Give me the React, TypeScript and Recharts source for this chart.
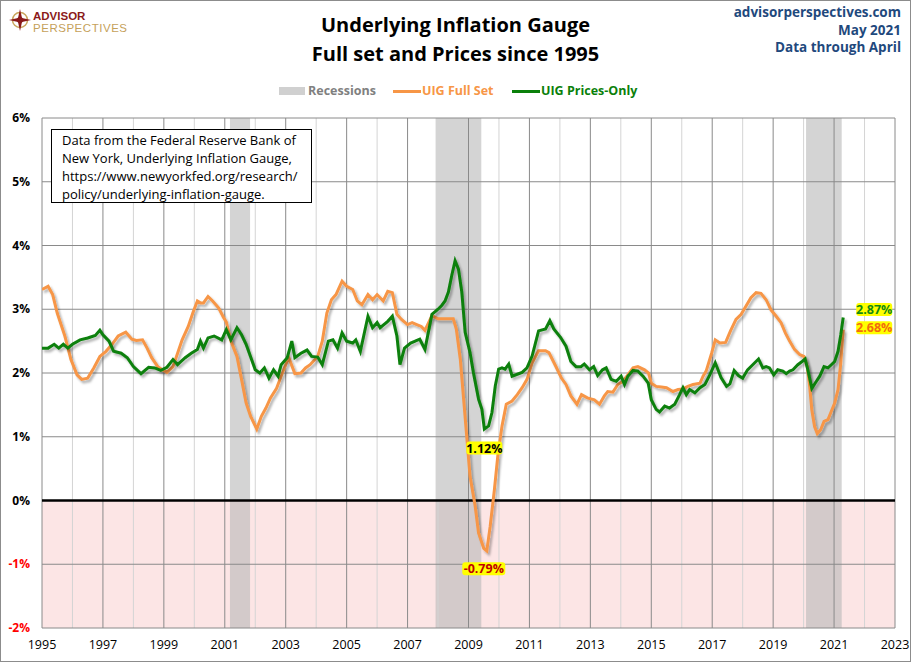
import React from "react";
import {
  LineChart,
  Line,
  XAxis,
  YAxis,
  ReferenceArea,
  ReferenceLine,
  ReferenceDot,
} from "recharts";

// x positions are fractional years, values are % (yoy)
const years = [
  1995, 1996, 1997, 1998, 1999, 2000, 2001, 2002, 2003, 2004, 2005, 2006, 2007,
  2008, 2009, 2010, 2011, 2012, 2013, 2014, 2015, 2016, 2017, 2018, 2019, 2020,
  2021, 2022, 2023,
];
const percentTicks = [-2, -1, 0, 1, 2, 3, 4, 5, 6];

const recessions: [number, number][] = [
  [2001.17, 2001.83],
  [2007.92, 2009.42],
  [2020.08, 2021.25],
];

const fullSet: [number, number][] = [
  [1995.0, 3.31], [1995.2, 3.36], [1995.35, 3.23], [1995.5, 2.94], [1995.75, 2.58],
  [1995.95, 2.21], [1996.15, 1.97], [1996.3, 1.9], [1996.5, 1.92], [1996.7, 2.08],
  [1996.9, 2.26], [1997.1, 2.34], [1997.3, 2.45], [1997.5, 2.58], [1997.75, 2.64],
  [1997.95, 2.53], [1998.1, 2.51], [1998.3, 2.52], [1998.45, 2.39], [1998.6, 2.24],
  [1998.8, 2.1], [1998.95, 2.05], [1999.1, 2.01], [1999.3, 2.1], [1999.45, 2.31],
  [1999.6, 2.52], [1999.8, 2.73], [1999.95, 2.94], [2000.1, 3.13], [2000.2, 3.1],
  [2000.3, 3.1], [2000.45, 3.2], [2000.6, 3.13], [2000.8, 3.02], [2000.95, 2.88],
  [2001.05, 2.8], [2001.2, 2.5], [2001.4, 2.26], [2001.55, 1.9], [2001.7, 1.53],
  [2001.85, 1.32], [2002.05, 1.12], [2002.2, 1.32], [2002.35, 1.45], [2002.5, 1.61],
  [2002.7, 1.76], [2002.85, 1.95], [2003.0, 2.13], [2003.1, 2.24], [2003.3, 1.99],
  [2003.5, 2.0], [2003.65, 2.08], [2003.8, 2.13], [2004.05, 2.26], [2004.2, 2.5],
  [2004.35, 2.94], [2004.5, 3.15], [2004.65, 3.23], [2004.85, 3.44], [2005.0, 3.36],
  [2005.2, 3.31], [2005.35, 3.13], [2005.5, 3.07], [2005.7, 3.23], [2005.85, 3.15],
  [2006.0, 3.23], [2006.2, 3.13], [2006.35, 3.28], [2006.5, 3.26], [2006.65, 2.92],
  [2006.8, 2.84], [2007.0, 2.76], [2007.15, 2.79], [2007.3, 2.76], [2007.45, 2.73],
  [2007.57, 2.67], [2007.8, 2.9], [2008.0, 2.85], [2008.23, 2.85], [2008.5, 2.85],
  [2008.6, 2.69], [2008.73, 2.22], [2008.84, 1.59], [2008.95, 0.96], [2009.05, 0.38],
  [2009.22, -0.09], [2009.33, -0.51], [2009.5, -0.75], [2009.6, -0.79], [2009.71, -0.41],
  [2009.85, 0.17], [2009.96, 0.69], [2010.1, 1.17], [2010.24, 1.51], [2010.43, 1.56],
  [2010.6, 1.66], [2010.76, 1.77], [2010.92, 1.9], [2011.09, 2.16], [2011.3, 2.35],
  [2011.53, 2.35], [2011.64, 2.32], [2011.86, 2.11], [2012.05, 1.92], [2012.2, 1.82],
  [2012.36, 1.64], [2012.56, 1.51], [2012.71, 1.66], [2012.9, 1.61], [2013.13, 1.58],
  [2013.3, 1.51], [2013.46, 1.64], [2013.57, 1.71], [2013.74, 1.7], [2013.9, 1.82],
  [2014.07, 1.87], [2014.23, 1.97], [2014.4, 2.08], [2014.56, 2.1], [2014.78, 2.05],
  [2014.91, 2.0], [2015.0, 1.84], [2015.16, 1.79], [2015.33, 1.78], [2015.5, 1.77],
  [2015.71, 1.71], [2015.88, 1.74], [2016.04, 1.75], [2016.2, 1.79], [2016.37, 1.82],
  [2016.6, 1.84], [2016.7, 1.95], [2016.8, 2.03], [2016.98, 2.31], [2017.1, 2.52],
  [2017.25, 2.47], [2017.44, 2.48], [2017.6, 2.66], [2017.78, 2.84], [2017.95, 2.92],
  [2018.11, 3.05], [2018.27, 3.18], [2018.44, 3.26], [2018.6, 3.25], [2018.77, 3.15],
  [2018.93, 2.99], [2019.1, 2.89], [2019.26, 2.79], [2019.4, 2.63], [2019.54, 2.5],
  [2019.7, 2.37], [2019.87, 2.29], [2020.01, 2.26], [2020.12, 2.1], [2020.2, 1.79],
  [2020.27, 1.42], [2020.36, 1.16], [2020.45, 1.05], [2020.56, 1.11], [2020.67, 1.24],
  [2020.8, 1.27], [2020.91, 1.4], [2021.02, 1.53], [2021.13, 1.74], [2021.22, 2.16],
  [2021.3, 2.68],
];

const pricesOnly: [number, number][] = [
  [1995.0, 2.39], [1995.2, 2.39], [1995.4, 2.45], [1995.55, 2.39], [1995.7, 2.45],
  [1995.85, 2.39], [1996.0, 2.45], [1996.25, 2.52], [1996.5, 2.55], [1996.75, 2.59],
  [1996.9, 2.67], [1997.0, 2.6], [1997.2, 2.5], [1997.35, 2.34], [1997.6, 2.31],
  [1997.8, 2.24], [1998.0, 2.1], [1998.25, 1.99], [1998.5, 2.09], [1998.7, 2.08],
  [1998.9, 2.04], [1999.1, 2.09], [1999.3, 2.21], [1999.45, 2.13], [1999.7, 2.24],
  [1999.9, 2.31], [2000.1, 2.37], [2000.2, 2.5], [2000.3, 2.39], [2000.45, 2.55],
  [2000.65, 2.58], [2000.9, 2.52], [2001.05, 2.68], [2001.2, 2.52], [2001.4, 2.71],
  [2001.55, 2.6], [2001.7, 2.45], [2001.85, 2.25], [2002.0, 2.05], [2002.15, 2.0],
  [2002.3, 2.08], [2002.45, 1.92], [2002.6, 2.05], [2002.75, 1.95], [2002.85, 2.13],
  [2003.05, 2.24], [2003.2, 2.5], [2003.3, 2.24], [2003.5, 2.31], [2003.7, 2.36],
  [2003.85, 2.26], [2004.05, 2.25], [2004.2, 2.13], [2004.4, 2.5], [2004.55, 2.52],
  [2004.7, 2.39], [2004.85, 2.63], [2005.0, 2.5], [2005.2, 2.47], [2005.3, 2.52],
  [2005.45, 2.34], [2005.7, 2.89], [2005.85, 2.71], [2006.0, 2.79], [2006.1, 2.71],
  [2006.35, 2.81], [2006.5, 2.89], [2006.65, 2.58], [2006.75, 2.13], [2006.9, 2.39],
  [2007.1, 2.47], [2007.25, 2.5], [2007.4, 2.53], [2007.57, 2.37], [2007.8, 2.92],
  [2008.0, 3.0], [2008.12, 3.06], [2008.23, 3.13], [2008.34, 3.27], [2008.45, 3.53],
  [2008.56, 3.76], [2008.67, 3.63], [2008.78, 3.27], [2008.89, 2.64], [2009.05, 2.32],
  [2009.16, 2.01], [2009.33, 1.59], [2009.44, 1.43], [2009.52, 1.12], [2009.66, 1.17],
  [2009.77, 1.38], [2009.88, 1.8], [2009.99, 2.06], [2010.1, 2.08], [2010.2, 2.06],
  [2010.32, 2.14], [2010.43, 1.95], [2010.6, 1.98], [2010.76, 2.01], [2010.92, 2.08],
  [2011.09, 2.27], [2011.3, 2.66], [2011.53, 2.69], [2011.67, 2.82], [2011.8, 2.69],
  [2012.02, 2.56], [2012.2, 2.42], [2012.36, 2.18], [2012.53, 2.1], [2012.69, 2.1],
  [2012.8, 2.14], [2012.97, 2.05], [2013.11, 2.1], [2013.24, 1.96], [2013.4, 2.05],
  [2013.52, 2.08], [2013.68, 1.9], [2013.85, 1.87], [2014.01, 1.95], [2014.12, 1.82],
  [2014.23, 1.95], [2014.4, 2.04], [2014.56, 2.03], [2014.73, 1.95], [2014.9, 1.84],
  [2015.0, 1.58], [2015.16, 1.43], [2015.27, 1.39], [2015.44, 1.48], [2015.6, 1.45],
  [2015.77, 1.51], [2015.93, 1.66], [2016.04, 1.77], [2016.15, 1.66], [2016.26, 1.74],
  [2016.43, 1.69], [2016.6, 1.77], [2016.76, 1.82], [2016.92, 1.97], [2017.1, 2.16],
  [2017.29, 1.93], [2017.47, 1.79], [2017.58, 1.83], [2017.72, 2.04], [2017.86, 1.96],
  [2018.0, 1.92], [2018.16, 2.05], [2018.33, 2.13], [2018.52, 2.22], [2018.66, 2.08],
  [2018.77, 2.1], [2018.88, 2.08], [2019.02, 1.97], [2019.15, 2.05], [2019.32, 2.03],
  [2019.43, 1.99], [2019.54, 2.03], [2019.65, 2.05], [2019.81, 2.13], [2019.95, 2.18],
  [2020.05, 2.22], [2020.14, 2.05], [2020.27, 1.76], [2020.42, 1.87], [2020.53, 1.95],
  [2020.67, 2.1], [2020.8, 2.08], [2020.91, 2.13], [2021.02, 2.18], [2021.13, 2.34],
  [2021.22, 2.6], [2021.3, 2.87],
];

// highlighted values: [x, y, text, colour, box-centre offset x, offset y]
const callouts: [number, number, string, string, number, number][] = [
  [2021.3, 2.87, "2.87%", "#138A13", 31, -8],
  [2021.3, 2.68, "2.68%", "#F26B0F", 31, -2],
  [2009.52, 1.12, "1.12%", "#000000", 0, 19],
  [2009.6, -0.79, "-0.79%", "#C00000", -3, 18],
];

const FONT = "'Open Sans', sans-serif";
const ORANGE = "#F79646";
const GREEN = "#0A800A";

const fullData = fullSet.map(([t, v]) => ({ t, v }));
const pricesData = pricesOnly.map(([t, v]) => ({ t, v }));

function XTick({ x, y, payload }: any) {
  if (payload.value % 2 === 0) return <g />;
  return (
    <text x={x} y={y + 21} textAnchor="middle" fontSize={12.5} fontFamily={FONT} fill="#000">
      {payload.value}
    </text>
  );
}

function YTick({ x, y, payload }: any) {
  return (
    <text
      x={x - 12}
      y={y + 4}
      textAnchor="end"
      fontSize={12}
      fontWeight="bold"
      fontFamily={FONT}
      fill={payload.value < 0 ? "#FF0000" : "#000"}
    >
      {payload.value}%
    </text>
  );
}

function Callout({ viewBox, text, color, dx, dy }: any) {
  const cx = viewBox.x + dx;
  const cy = viewBox.y + dy;
  const w = text.length * 7 + 1;
  return (
    <g>
      <rect x={cx - w / 2} y={cy - 6.5} width={w} height={13} rx={3} fill="#FFFF00" />
      <text x={cx} y={cy + 4.5} textAnchor="middle" fontSize={12.5} fontWeight="bold" fontFamily={FONT} fill={color}>
        {text}
      </text>
    </g>
  );
}

function Logo() {
  return (
    <svg width={140} height={40} style={{ position: "absolute", left: 0, top: 0 }}>
      <circle cx={20} cy={20} r={7.5} fill="none" stroke="#C9A55C" strokeWidth={1.5} />
      <path d="M20 9 L22 18 L31 20 L22 22 L20 31 L18 22 L9 20 L18 18 Z" fill="#8B1A1A" />
      <circle cx={20} cy={20} r={3} fill="#8B1A1A" />
      <text x={33} y={20} fontSize={11.5} fontWeight="bold" fontFamily="'Liberation Sans', Arial" fill="#8B1A1A">
        ADVISOR
      </text>
      <text x={33} y={32} fontSize={11.5} fontFamily="'Liberation Sans', Arial" fill="#C5A15A" textLength={94}>
        PERSPECTIVES
      </text>
    </svg>
  );
}

function LegendRow() {
  const txt = {
    position: "absolute" as const,
    top: 83,
    fontSize: 12.5,
    lineHeight: "16px",
    fontWeight: "bold" as const,
    fontFamily: FONT,
    whiteSpace: "nowrap" as const,
  };
  return (
    <>
      <div style={{ position: "absolute", left: 279, top: 87, width: 26, height: 8, background: "#D0D0D0" }} />
      <div style={{ ...txt, left: 308, color: "#808080" }}>Recessions</div>
      <div style={{ position: "absolute", left: 393, top: 90, width: 28, height: 3, background: ORANGE }} />
      <div style={{ ...txt, left: 422, color: ORANGE }}>UIG Full Set</div>
      <div style={{ position: "absolute", left: 512, top: 90, width: 28, height: 3, background: GREEN }} />
      <div style={{ ...txt, left: 541, color: GREEN }}>UIG Prices-Only</div>
    </>
  );
}

export default function App() {
  return (
    <div style={{ position: "absolute", left: 0, top: 0, width: 911, height: 662, background: "#fff", fontFamily: FONT }}>
      <LineChart width={911} height={662} margin={{ top: 118, right: 16, bottom: 4, left: 0 }}>
        <defs>
          <filter id="lineShadow" x="-5%" y="-5%" width="110%" height="120%">
            <feDropShadow dx={2} dy={2.5} stdDeviation={1.2} floodColor="#000" floodOpacity={0.3} />
          </filter>
        </defs>
        <XAxis
          type="number"
          dataKey="t"
          domain={[1995, 2023]}
          ticks={years}
          interval={0}
          tick={<XTick />}
          tickSize={0}
          tickMargin={0}
          axisLine={false}
          tickLine={false}
          height={30}
          allowDataOverflow
        />
        <YAxis
          type="number"
          domain={[-2, 6]}
          ticks={percentTicks}
          interval={0}
          tick={<YTick />}
          tickSize={0}
          tickMargin={0}
          axisLine={false}
          tickLine={false}
          width={42}
        />
        <ReferenceArea y1={-2} y2={0} fill="#F7B0B0" fillOpacity={0.33} stroke="none" />
        {recessions.map(([a, b]) => (
          <ReferenceArea key={a} x1={a} x2={b} fill="#B8B8B8" fillOpacity={0.6} stroke="none" />
        ))}
        {years.map((yr) => (
          <ReferenceLine
            key={yr}
            x={yr}
            stroke={yr % 2 === 1 ? "#8A8A8A" : "#D4D4D4"}
            strokeWidth={1}
          />
        ))}
        {percentTicks.map((p) => (
          <ReferenceLine key={p} y={p} stroke={p === 0 ? "#000" : "#8A8A8A"} strokeWidth={p === 0 ? 2.5 : 1} />
        ))}
        <Line
          data={fullData}
          dataKey="v"
          type="linear"
          stroke={ORANGE}
          strokeWidth={3}
          dot={false}
          filter="url(#lineShadow)"
          isAnimationActive={false}
        />
        <Line
          data={pricesData}
          dataKey="v"
          type="linear"
          stroke={GREEN}
          strokeWidth={3}
          dot={false}
          filter="url(#lineShadow)"
          isAnimationActive={false}
        />
        {callouts.map(([t, v, text, color, dx, dy]) => (
          <ReferenceDot
            key={text}
            x={t}
            y={v}
            r={0}
            fill="none"
            stroke="none"
            label={(p: any) => <Callout viewBox={p.viewBox} text={text} color={color} dx={dx} dy={dy} />}
          />
        ))}
      </LineChart>

      <Logo />
      <div
        style={{
          position: "absolute",
          left: 0,
          width: 911,
          top: 10,
          textAlign: "center",
          fontSize: 20,
          fontWeight: "bold",
          lineHeight: "29px",
          color: "#000",
        }}
      >
        Underlying Inflation Gauge
        <br />
        Full set and Prices since 1995
      </div>
      <div
        style={{
          position: "absolute",
          right: 10,
          top: 4,
          textAlign: "right",
          fontSize: 13.5,
          fontWeight: "bold",
          lineHeight: "17.5px",
          color: "#1F497D",
          whiteSpace: "nowrap",
        }}
      >
        advisorperspectives.com
        <br />
        May 2021
        <br />
        Data through April
      </div>
      <LegendRow />
      <div
        style={{
          position: "absolute",
          left: 51,
          top: 129,
          width: 261,
          height: 74,
          boxSizing: "border-box",
          border: "1px solid #000",
          background: "#fff",
          padding: "1px 0 0 10px",
          fontSize: 13,
          lineHeight: "18px",
          color: "#000",
          whiteSpace: "nowrap",
        }}
      >
        Data from the Federal Reserve Bank of
        <br />
        New York, Underlying Inflation Gauge,
        <br />
        https://www.newyorkfed.org/research/
        <br />
        policy/underlying-inflation-gauge.
      </div>
      <div style={{ position: "absolute", inset: 0, border: "1.5px solid #8C8C8C", pointerEvents: "none" }} />
    </div>
  );
}
